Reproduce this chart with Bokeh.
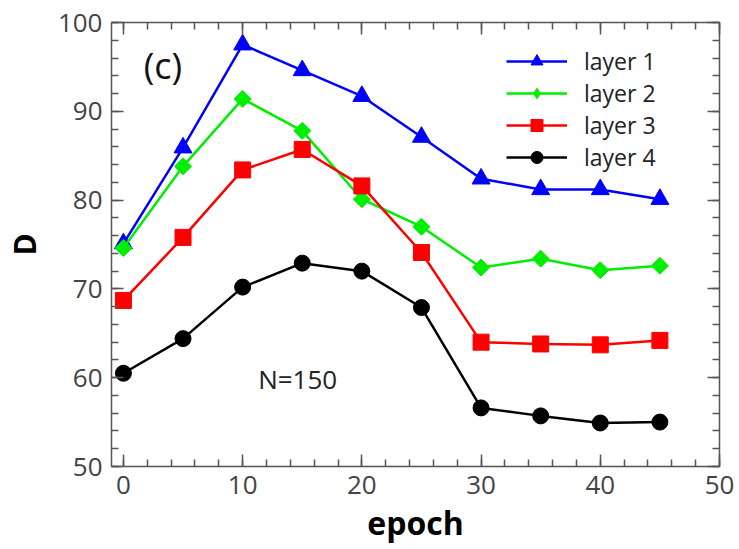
import numpy as np
from bokeh.plotting import figure
from bokeh.models import (Range1d, LinearAxis, SingleIntervalTicker, Label,
                          Legend, LegendItem, CustomJSTickFormatter,
                          ColumnDataSource)
from bokeh.embed import file_html
from bokeh.resources import INLINE

# ---- data ----
epoch = [0, 5, 10, 15, 20, 25, 30, 35, 40, 45]
layer1 = [75.1, 85.9, 97.5, 94.6, 91.7, 87.1, 82.4, 81.2, 81.2, 80.1]
layer2 = [74.6, 83.8, 91.4, 87.8, 80.1, 77.0, 72.4, 73.4, 72.1, 72.6]
layer3 = [68.7, 75.8, 83.4, 85.7, 81.6, 74.1, 64.0, 63.8, 63.7, 64.2]
layer4 = [60.5, 64.4, 70.2, 72.9, 72.0, 67.9, 56.6, 55.7, 54.9, 55.0]
series_names = ["layer 1", "layer 2", "layer 3", "layer 4"]

FONT = "Open Sans"
AXC = "#555555"
TXC = "#444444"

p = figure(width=739, height=549, output_backend="svg", toolbar_location=None,
           x_range=Range1d(-1, 50), y_range=Range1d(50, 100),
           min_border_left=110, min_border_right=20,
           min_border_top=22, min_border_bottom=83,
           x_axis_label="epoch", y_axis_label="D")
p.background_fill_color = "white"
p.border_fill_color = "white"
p.outline_line_color = None
p.xgrid.visible = False
p.ygrid.visible = False

def style_axis(ax, interval, show_labels=True):
    ax.ticker = SingleIntervalTicker(interval=interval, num_minor_ticks=5)
    ax.axis_line_color = AXC
    ax.axis_line_width = 1.5
    ax.major_tick_line_color = AXC
    ax.minor_tick_line_color = AXC
    ax.major_tick_line_width = 1.5
    ax.minor_tick_line_width = 1.5
    ax.major_tick_in = 12
    ax.major_tick_out = 0
    ax.minor_tick_in = 7
    ax.minor_tick_out = 0
    ax.major_label_text_font = FONT
    ax.major_label_text_font_size = "26px"
    ax.major_label_text_color = TXC
    if not show_labels:
        ax.formatter = CustomJSTickFormatter(code="return ''")

style_axis(p.xaxis[0], 10)
style_axis(p.yaxis[0], 10)
p.xaxis.major_label_standoff = 9
p.yaxis.major_label_standoff = 9
p.xaxis.axis_label_text_font = FONT
p.yaxis.axis_label_text_font = FONT
p.xaxis.axis_label_text_font_style = "bold"
p.yaxis.axis_label_text_font_style = "bold"
p.xaxis.axis_label_text_font_size = "32px"
p.yaxis.axis_label_text_font_size = "30px"
p.xaxis.axis_label_text_color = "black"
p.yaxis.axis_label_text_color = "black"
p.xaxis.axis_label_standoff = 4
p.yaxis.axis_label_standoff = 10

top_ax = LinearAxis()
style_axis(top_ax, 10, show_labels=False)
p.add_layout(top_ax, "above")
right_ax = LinearAxis()
style_axis(right_ax, 10, show_labels=False)
p.add_layout(right_ax, "right")

colors = ["#0000ff", "#00ee00", "#ff0000", "#000000"]
markers = ["triangle", "square", "square", "circle"]
sizes = [18, 12, 16, 16]
angles = [0, np.pi / 4, 0, 0]
values = [layer1, layer2, layer3, layer4]

items = []
for name, ys, c, m, s, a in zip(series_names, values, colors, markers, sizes, angles):
    src = ColumnDataSource(data=dict(x=epoch, y=ys))
    ln = p.line("x", "y", source=src, line_color=c, line_width=2.5)
    sc = p.scatter("x", "y", source=src, marker=m, size=s, angle=a,
                   fill_color=c, line_color=c)
    rends = [ln, sc]
    if a != 0:
        # legend symbol for the rotated-square series: zero-size diamonds
        # in the plot, a diamond in the legend
        proxy = p.scatter("x", "y", source=src, marker="diamond", size=0,
                          fill_color=c, line_color=c, line_alpha=0)
        rends = [ln, proxy]
    items.append(LegendItem(label=name, renderers=rends))

legend = Legend(items=items, location=(395, 293))
legend.border_line_color = None
legend.background_fill_alpha = 0
legend.padding = 0
legend.margin = 0
legend.glyph_width = 61
legend.glyph_height = 30
legend.label_height = 30
legend.spacing = 0
legend.label_standoff = 17
legend.label_text_font = FONT
legend.label_text_font_size = "23px"
legend.label_text_color = "#222222"
p.add_layout(legend)

p.add_layout(Label(x=1.7, y=95.2, text="(c)", text_font=FONT,
                   text_font_size="36px", text_color="#111111",
                   text_align="left", text_baseline="middle"))
p.add_layout(Label(x=11.3, y=59.8, text="N=150", text_font=FONT,
                   text_font_size="26px", text_color="#222222",
                   text_align="left", text_baseline="middle"))

open("out.html", "w").write(file_html(p, INLINE))
